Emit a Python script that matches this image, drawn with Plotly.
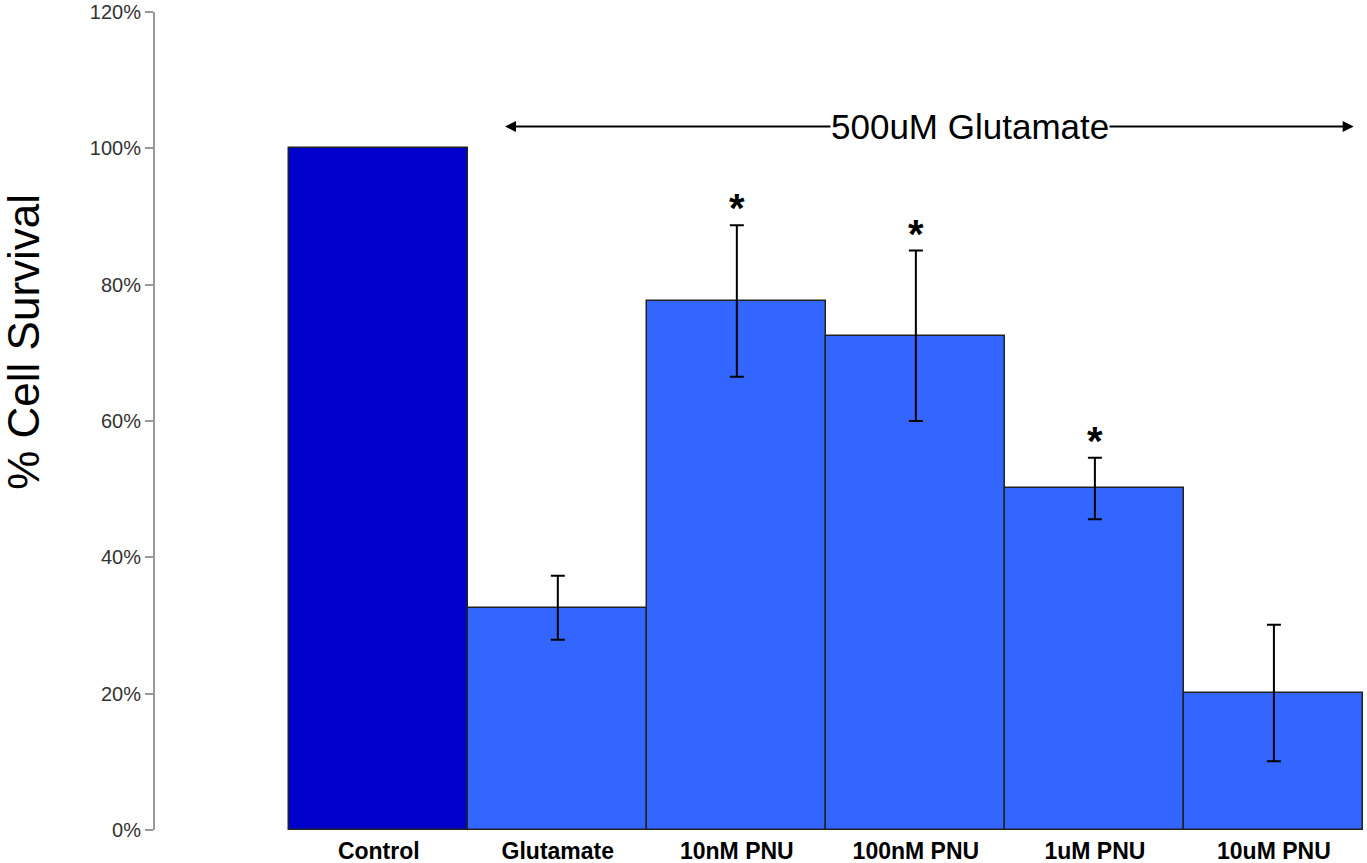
import plotly.graph_objects as go

# values
groups = ['Control', 'Glutamate', '10nM PNU', '100nM PNU', '1uM PNU', '10uM PNU']
survival = [100.0, 32.6, 77.6, 72.5, 50.1, 20.1]
sem = [None, 4.7, 11.1, 12.5, 4.5, 10.0]
significant = [False, False, True, True, True, False]
bar_colors = ['#0000CC', '#3366FF', '#3366FF', '#3366FF', '#3366FF', '#3366FF']
y_ticks = [0, 20, 40, 60, 80, 100, 120]

xpos = list(range(len(groups)))

fig = go.Figure()
fig.add_trace(go.Bar(
    x=xpos, y=survival,
    width=1.0,
    marker=dict(color=bar_colors, line=dict(color='#222222', width=1.5)),
    showlegend=False, hoverinfo='skip',
))

# error bars only where there is a SEM (control has none)
err_idx = [i for i in xpos if sem[i] is not None]
fig.add_trace(go.Scatter(
    x=[xpos[i] for i in err_idx], y=[survival[i] for i in err_idx],
    mode='markers', marker=dict(size=1, opacity=0),
    error_y=dict(type='data', array=[sem[i] for i in err_idx], visible=True,
                 color='black', thickness=2, width=7),
    showlegend=False, hoverinfo='skip',
))

# significance stars
for i, flag in enumerate(significant):
    if flag:
        fig.add_annotation(x=xpos[i], y=survival[i] + sem[i], text='<b>*</b>',
                           showarrow=False, yanchor='bottom', yshift=-7,
                           font=dict(size=40, color='black',
                                     family='Liberation Sans, Arial'))

# double headed arrow for treatment
arrow_y = 103.2
fig.add_annotation(x=0.705, y=arrow_y, ax=5.454, ay=arrow_y,
                   xref='x', yref='y', axref='x', ayref='y',
                   text='', showarrow=True, arrowhead=2, startarrowhead=2,
                   arrowside='end+start', arrowwidth=2, arrowsize=1.1,
                   startarrowsize=1.1, arrowcolor='black')
fig.add_annotation(x=3.3, y=arrow_y, text='500uM Glutamate', showarrow=False,
                   bgcolor='white', borderpad=0,
                   font=dict(size=35, color='black', family='Liberation Sans, Arial'))

# y axis title, placed by hand like the original
fig.add_annotation(x=-0.108, y=0.597, xref='paper', yref='paper', text='% Cell Survival',
                   showarrow=False, textangle=-90, xanchor='center', yanchor='middle',
                   font=dict(size=44, color='black', family='Liberation Sans, Arial'))

fig.update_layout(
    width=1367, height=863,
    margin=dict(l=155, r=0, t=12, b=33),
    plot_bgcolor='white', paper_bgcolor='white',
    bargap=0,
    font=dict(family='Liberation Sans, Arial'),
)

fig.update_xaxes(range=[-1.25, 5.52], tickvals=xpos, ticktext=['<b>%s</b>' % g for g in groups],
                 showline=False, showgrid=False, zeroline=False, ticks='',
                 ticklabelstandoff=5, automargin=False,
                 tickfont=dict(size=23, color='black'))
fig.update_yaxes(range=[0, 120], tickvals=y_ticks, ticktext=['%d%%' % t for t in y_ticks],
                 showline=True, linecolor='#999999', linewidth=2,
                 ticks='outside', ticklen=8, tickcolor='#999999', tickwidth=1.5,
                 showgrid=False, zeroline=False, automargin=False,
                 tickfont=dict(size=20, color='#333333'))

# drop the default page margin so the figure sits at the window corner
fig.write_html("out.html", config={'displayModeBar': False},
               post_script="document.body.style.margin='0';")
